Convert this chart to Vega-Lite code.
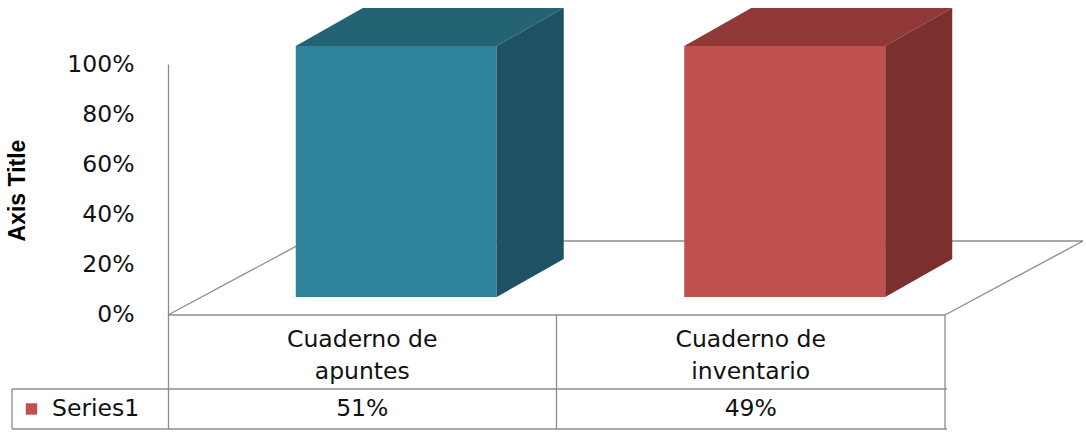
{
  "$schema": "https://vega.github.io/schema/vega-lite/v6.json",
  "width": 777,
  "height": 365,
  "autosize": {"type": "none"},
  "padding": {"left": 168, "top": 64, "right": 141, "bottom": 4},
  "background": "white",
  "config": {"view": {"stroke": null}, "font": "DejaVu Sans"},
  "data": {"values": [
    {"category": "Cuaderno de apuntes", "series": "Series1", "value": 0.51},
    {"category": "Cuaderno de inventario", "series": "Series1", "value": 0.49}
  ]},
  "layer": [
    {
      "data": {"values": [{"part": "floor"}]},
      "mark": {"type": "point", "shape": "M0,0L138,-74L915,-74L777,0", "size": 4, "filled": false, "stroke": "#8c8c8c", "strokeWidth": 1.3, "opacity": 1, "xOffset": -194.25},
      "encoding": {
        "x": {"datum": "Cuaderno de apuntes", "type": "nominal"},
        "y": {"datum": 0, "type": "quantitative"}
      }
    },
    {
      "mark": {"type": "bar", "width": 201, "xOffset": 34, "yOffset": -18, "y2Offset": -18},
      "encoding": {
        "x": {"field": "category", "type": "nominal", "sort": null, "title": null,
          "scale": {"paddingInner": 0, "paddingOuter": 0},
          "axis": {"title": null, "labelExpr": "[slice(datum.label, 0, 11), slice(datum.label, 12)]", "labelAngle": 0, "labelAlign": "center", "ticks": false, "domain": false, "grid": false, "labelPadding": -90, "labelFontSize": 23.5, "labelLineHeight": 32, "labelColor": "#111111", "labelFont": "DejaVu Sans", "labelOverlap": false}},
        "y": {"field": "value", "type": "quantitative", "stack": "normalize",
          "scale": {"domain": [-0.4542, 1], "nice": false},
          "axis": {"title": "Axis Title", "values": [0, 0.2, 0.4, 0.6, 0.8, 1], "format": ".0%", "grid": false, "ticks": false, "domain": true, "domainColor": "#8c8c8c", "domainWidth": 1.3, "labelPadding": 34, "labelFontSize": 23.5, "labelFont": "DejaVu Sans", "labelColor": "#111111", "titleFont": "Liberation Sans", "titleFontSize": 23, "titleFontWeight": "bold", "titleColor": "#000000", "titlePadding": 37, "titleY": 126}},
        "color": {"condition": {"test": "datum.category === 'Cuaderno de apuntes'", "value": "#2E8299"}, "value": "#C0504D"}
      }
    },
    {
      "mark": {"type": "point", "shape": "M0,0L67,-38L268,-38L201,0Z", "size": 4, "filled": true, "opacity": 1, "strokeWidth": 0, "xOffset": -66.5, "yOffset": -18},
      "encoding": {
        "x": {"field": "category", "type": "nominal", "sort": null, "title": null},
        "y": {"field": "value", "type": "quantitative", "stack": "normalize"},
        "color": {"condition": {"test": "datum.category === 'Cuaderno de apuntes'", "value": "#236373"}, "value": "#913938"}
      }
    },
    {
      "mark": {"type": "point", "shape": "M201,0L268,-38L268,213L201,251Z", "size": 4, "filled": true, "opacity": 1, "strokeWidth": 0, "xOffset": -66.5, "yOffset": -18},
      "encoding": {
        "x": {"field": "category", "type": "nominal", "sort": null, "title": null},
        "y": {"field": "value", "type": "quantitative", "stack": "normalize"},
        "color": {"condition": {"test": "datum.category === 'Cuaderno de apuntes'", "value": "#1E5263"}, "value": "#7B302E"}
      }
    },
    {
      "data": {"values": [{"part": "top border"}]},
      "mark": {"type": "rule", "color": "#8c8c8c", "strokeWidth": 1.3},
      "encoding": {"y": {"datum": 0, "type": "quantitative"}}
    },
    {
      "data": {"values": [{"part": "row border"}]},
      "mark": {"type": "rule", "color": "#8c8c8c", "strokeWidth": 1.3, "xOffset": -350.25, "x2Offset": 196.25},
      "encoding": {
        "x": {"datum": "Cuaderno de apuntes", "type": "nominal"},
        "x2": {"datum": "Cuaderno de inventario"},
        "y": {"datum": -0.2948, "type": "quantitative"}
      }
    },
    {
      "data": {"values": [{"part": "bottom border"}]},
      "mark": {"type": "rule", "color": "#8c8c8c", "strokeWidth": 1.3, "xOffset": -350.25, "x2Offset": 196.25},
      "encoding": {
        "x": {"datum": "Cuaderno de apuntes", "type": "nominal"},
        "x2": {"datum": "Cuaderno de inventario"},
        "y": {"datum": -0.4542, "type": "quantitative"}
      }
    },
    {
      "data": {"values": [{"part": "left cell border"}]},
      "mark": {"type": "rule", "color": "#8c8c8c", "strokeWidth": 1.3, "xOffset": -350.25},
      "encoding": {
        "x": {"datum": "Cuaderno de apuntes", "type": "nominal"},
        "y": {"datum": -0.2948, "type": "quantitative"},
        "y2": {"datum": -0.4542}
      }
    },
    {
      "mark": {"type": "rule", "color": "#8c8c8c", "strokeWidth": 1.3},
      "encoding": {
        "x": {"field": "category", "type": "nominal", "sort": null, "bandPosition": 1, "title": null},
        "y": {"datum": 0, "type": "quantitative"},
        "y2": {"datum": -0.4542}
      }
    },
    {
      "mark": {"type": "text", "fontSize": 23.5, "font": "DejaVu Sans", "color": "#111111", "baseline": "middle"},
      "encoding": {
        "x": {"field": "category", "type": "nominal", "sort": null, "title": null},
        "y": {"datum": -0.3745, "type": "quantitative"},
        "text": {"field": "value", "type": "quantitative", "format": ".0%"}
      }
    },
    {
      "transform": [{"aggregate": [{"op": "count", "as": "n"}], "groupby": ["series"]}],
      "mark": {"type": "text", "fontSize": 23.5, "font": "DejaVu Sans", "color": "#111111", "baseline": "middle", "align": "left", "xOffset": -310.25},
      "encoding": {
        "x": {"datum": "Cuaderno de apuntes", "type": "nominal"},
        "y": {"datum": -0.3745, "type": "quantitative"},
        "text": {"field": "series", "type": "nominal"}
      }
    },
    {
      "transform": [{"aggregate": [{"op": "count", "as": "n"}], "groupby": ["series"]}],
      "mark": {"type": "point", "shape": "square", "size": 130, "filled": true, "opacity": 1, "color": "#C0504D", "xOffset": -330.75},
      "encoding": {
        "x": {"datum": "Cuaderno de apuntes", "type": "nominal"},
        "y": {"datum": -0.3745, "type": "quantitative"}
      }
    }
  ]
}
